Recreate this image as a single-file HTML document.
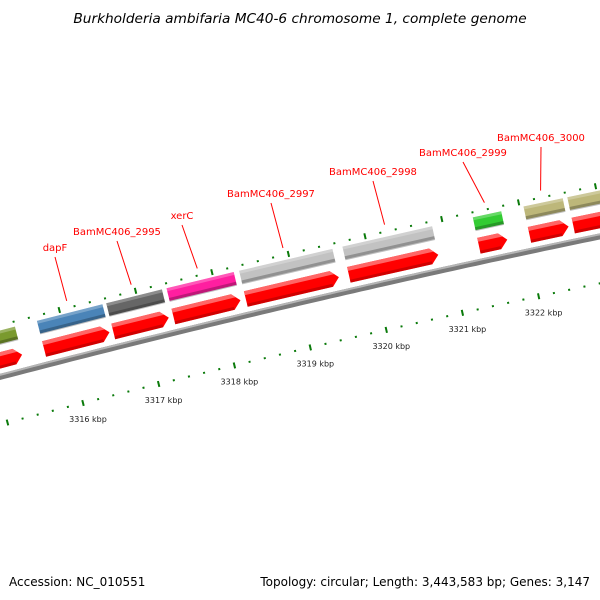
<!DOCTYPE html>
<html><head><meta charset="utf-8">
<style>
html,body{margin:0;padding:0;background:#fff;}
svg{display:block;font-family:"DejaVu Sans","Liberation Sans",sans-serif;}
</style></head>
<body>
<svg id="chart" width="600" height="600" viewBox="0 0 600 600">
<text x="300" y="23" text-anchor="middle" font-size="13.7" font-style="italic" fill="#000">Burkholderia ambifaria MC40-6 chromosome 1, complete genome</text>
<g id="plot"></g>
<text x="9" y="586" font-size="12" fill="#000">Accession: NC_010551</text>
<text x="590" y="586" text-anchor="end" font-size="12" fill="#000">Topology: circular; Length: 3,443,583 bp; Genes: 3,147</text>
</svg>
<script>
const geneNames = ["olive-gene","BamMC406_2994","BamMC406_2995","xerC","BamMC406_2997","BamMC406_2998","BamMC406_2999","BamMC406_3000","next-gene"];
const geneStarts = [3314.9,3315.67,3316.58,3317.37,3318.32,3319.67,3321.37,3322.03,3322.60];
const geneEnds = [3315.42,3316.57,3317.35,3318.29,3319.58,3320.88,3321.78,3322.58,3323.4];
const geneColors = ["#7a9a2e","#4a84b8","#666666","#ff1fa0","#c2c2c2","#c2c2c2","#33cc33","#bdb77a","#bdb77a"];
const labelTexts = ["dapF","BamMC406_2995","xerC","BamMC406_2997","BamMC406_2998","BamMC406_2999","BamMC406_3000"];
const labelGene = [1,2,3,4,5,6,7];
const labelPos = [[55,251],[117,235],[182,219],[271,197],[373,175],[463,156],[541,141]];
const kbpTicks = [3316,3317,3318,3319,3320,3321,3322];

const NS="http://www.w3.org/2000/svg";
const g=document.getElementById('plot');
const R=12000, th0=14.3*Math.PI/180, P0=[83,403], PXK=78, K0=3316;
const C=[P0[0]+R*Math.sin(th0), P0[1]+R*Math.cos(th0)];
function pos(k,v){const u=(k-K0)*PXK;const th=th0-u/R;return [C[0]-(R+v)*Math.sin(th), C[1]-(R+v)*Math.cos(th)];}
function mk(t,a){const e=document.createElementNS(NS,t);for(const k in a)e.setAttribute(k,a[k]);g.appendChild(e);return e;}
function pts(arr){return arr.map(p=>p[0].toFixed(1)+","+p[1].toFixed(1)).join(" ");}

let bb=[],bt=[];
for(let k=3314.5;k<=3324;k+=0.1){bb.push(pos(k,46));bt.push(pos(k,48));}
let e=mk('polyline',{points:pts(bb),fill:'none',stroke:'#7a7a7a','stroke-width':6});


e=mk('polyline',{points:pts(bt),fill:'none',stroke:'#b5b5b5','stroke-width':2});



for(let i=0;i<=55;i++){
  const k=3314.6+i*0.2; const kr=Math.round(k*5)/5;
  const major=Math.abs(kr-Math.round(kr))<0.01;
  [0,96].forEach(v=>{
    const a=pos(kr,v-(major?3:1)),b=pos(kr,v+(major?3:1));
    const t=mk('line',{x1:a[0],y1:a[1],x2:b[0],y2:b[1],stroke:'#0a7a0a','stroke-width':2});
    
    
  });
}
kbpTicks.forEach(k=>{
  const p=pos(k,0);
  const t=mk('text',{x:p[0]+5,y:p[1]+19,'text-anchor':'middle','font-size':8,fill:'#222'});
  t.textContent=k+" kbp";
  
  
});

geneNames.forEach((n,i)=>{
  const s=geneStarts[i],en=geneEnds[i],gap=0.02;
  const a=s+gap,b=en-gap;
  const box=mk('polygon',{points:pts([pos(a,91),pos(b,91),pos(b,78),pos(a,78)]),fill:geneColors[i]});
  
  
  const sh=mk('polygon',{points:pts([pos(a,81),pos(b,81),pos(b,77),pos(a,77)]),fill:'#000','fill-opacity':0.25});
  
  
  const hl=mk('polygon',{points:pts([pos(a,91),pos(b,91),pos(b,88),pos(a,88)]),fill:'#fff','fill-opacity':0.25});
  
  
  const head=Math.min(0.1,(b-a)*0.4);
  const ar=mk('polygon',{points:pts([pos(a,70),pos(b-head,70),pos(b,62),pos(b-head,54),pos(a,54)]),fill:'#ff0000'});
  
  
  const ah=mk('polygon',{points:pts([pos(a,70),pos(b-head,70),pos(b-head*0.5,66),pos(a,66)]),fill:'#ff8080','fill-opacity':0.8});
  
  
  const ad=mk('polygon',{points:pts([pos(a,57),pos(b-head,57),pos(b-head,54),pos(a,54)]),fill:'#b00000','fill-opacity':0.6});
  
  
});

labelTexts.forEach((t,i)=>{
  const gi=labelGene[i];
  const mid=(geneStarts[gi]+geneEnds[gi])/2;
  const end=pos(mid,103);
  const lp=labelPos[i];
  const ln=mk('line',{x1:lp[0],y1:lp[1]+6,x2:end[0],y2:end[1],stroke:'#ff0000','stroke-width':1});
  
  
  const tx=mk('text',{x:lp[0],y:lp[1],'text-anchor':'middle','font-size':10,fill:'#ff0000'});
  tx.textContent=t;
  
  
});
</script>
</body></html>
